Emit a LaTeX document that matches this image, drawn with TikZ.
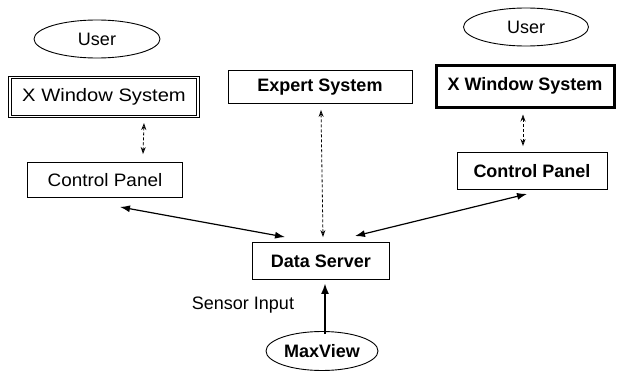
\documentclass[tikz,border=0pt]{standalone}
\usepackage{fontspec}
\setmainfont{Liberation Sans}
\usetikzlibrary{shapes.geometric,arrows.meta}
\begin{document}
\begin{tikzpicture}[x=1pt,y=-1pt,
  box/.style={draw,rectangle,inner sep=0pt,line width=0.9pt},
  oval/.style={draw,ellipse,inner sep=0pt,line width=0.9pt},
  reg/.style={font=\fontsize{18}{20}\selectfont},
  bld/.style={font=\fontsize{18}{20}\selectfont\bfseries},
  solidarr/.style={line width=1.2pt,{Latex[length=10pt,width=7pt]}-{Latex[length=10pt,width=7pt]}},
  dasharr/.style={line width=0.8pt,densely dashed,{Stealth[length=7pt,width=5pt,open]}-{Stealth[length=7pt,width=5pt,open]}}
]
\useasboundingbox (0,0) rectangle (629,372);
\node[oval,reg,minimum width=126pt,minimum height=38pt] (userL) at (97,39) {User};
\node[box,reg,double,double distance=1.2pt,line width=1pt,minimum width=188pt,minimum height=39pt] (xwsL) at (104,97) {\scalebox{1.12}[1]{X Window System}};
\node[box,reg,minimum width=155pt,minimum height=35pt] (cpL) at (105,180) {\scalebox{1.05}[1]{Control Panel}};
\node[box,bld,minimum width=184pt,minimum height=33pt] (expert) at (320,87) {Expert System};
\node[oval,reg,minimum width=125pt,minimum height=38pt] (userR) at (526,27) {User};
\node[box,bld,line width=3pt,minimum width=178pt,minimum height=42pt] (xwsR) at (525,86) {X Window System};
\node[box,reg,minimum width=150pt,minimum height=37pt] (cpR) at (532,171) {\textbf{Control Panel}};
\node[box,bld,minimum width=137pt,minimum height=37pt] (ds) at (321,261) {Data Server};
\node[reg,anchor=center] (sensor) at (243,305) {Sensor Input};
\node[oval,bld,minimum width=112pt,minimum height=39pt] (maxview) at (322,351) {MaxView};

\draw[dasharr] ([xshift=40pt,yshift=-6pt]xwsL.south) -- ([xshift=38pt,yshift=8pt]cpL.north);
\draw[dasharr] ([xshift=-2pt,yshift=-6pt]xwsR.south) -- ([xshift=-9pt,yshift=6pt]cpR.north);
\draw[dasharr] ([xshift=1pt,yshift=-6pt]expert.south) -- ([xshift=2pt,yshift=5pt]ds.north);
\draw[solidarr] ([xshift=15pt,yshift=-9pt]cpL.south) -- ([xshift=-36pt,yshift=5pt]ds.north);
\draw[solidarr] ([xshift=-5pt,yshift=-4pt]cpR.south) -- ([xshift=34pt,yshift=6pt]ds.north);
\draw[line width=2pt,-{Latex[length=11pt,width=8pt]}] ([xshift=3pt,yshift=-3pt]maxview.north) -- ([xshift=4pt,yshift=-3pt]ds.south);
\end{tikzpicture}
\end{document}
